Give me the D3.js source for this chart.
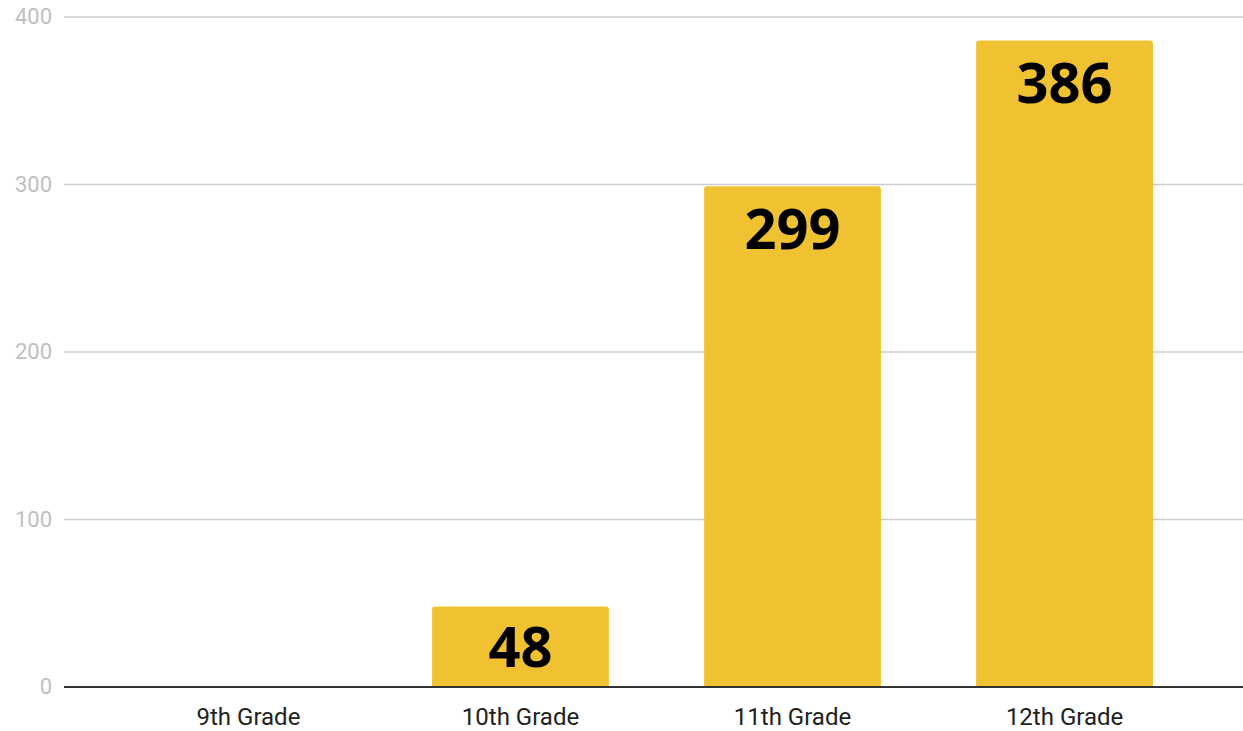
<!DOCTYPE html>
<html>
<head>
<meta charset="utf-8">
<script src="https://cdn.jsdelivr.net/npm/d3@7"></script>
<style>
  body { margin: 0; background: #fff; }
  svg { display: block; }
</style>
</head>
<body>
<svg id="chart" width="1243" height="731"></svg>
<script>
// data
const grades = ["9th Grade", "10th Grade", "11th Grade", "12th Grade"];
const counts = [0, 48, 299, 386];
const yTicks = [0, 100, 200, 300, 400];

const svg = d3.select("#chart");
const plotLeft = 64, plotRight = 1243, plotTop = 17, plotBottom = 687;

// band range shifted a touch right so bars land where the original puts them
const x = d3.scaleBand()
  .domain(grades)
  .range([plotLeft + 3, plotRight + 3])
  .paddingInner(0.35)
  .paddingOuter(0.342);
const y = d3.scaleLinear().domain([0, 400]).range([plotBottom, plotTop]);

// gridlines + y labels
const grid = svg.append("g");
grid.selectAll("line")
  .data(yTicks.filter((d) => d > 0))
  .join("line")
  .attr("x1", plotLeft)
  .attr("x2", plotRight)
  .attr("y1", (d) => y(d))
  .attr("y2", (d) => y(d))
  .attr("stroke", "#cccccc")
  .attr("stroke-width", 1.5);
grid.selectAll("text")
  .data(yTicks)
  .join("text")
  .text((d) => d)
  .attr("x", 52)
  .attr("y", (d) => y(d) + 7)
  .attr("text-anchor", "end")
  .style("font-family", "Roboto")
  .style("font-size", "22px")
  .attr("fill", "#c0c0c0");

// bars, tops slightly rounded
svg.append("g")
  .selectAll("path")
  .data(counts)
  .join("path")
  .attr("d", (d, i) => {
    const x0 = x(grades[i]), w = x.bandwidth(), y0 = y(d), r = d > 0 ? 3 : 0;
    return `M${x0},${plotBottom}V${y0 + r}Q${x0},${y0} ${x0 + r},${y0}H${x0 + w - r}Q${x0 + w},${y0} ${x0 + w},${y0 + r}V${plotBottom}Z`;
  })
  .attr("fill", "#f0c232");

// value labels inside the bars
svg.append("g")
  .selectAll("text")
  .data(counts)
  .join("text")
  .text((d) => (d > 0 ? d : ""))
  .attr("x", (d, i) => x(grades[i]) + x.bandwidth() / 2)
  .attr("y", (d) => Math.min(y(d) + 63, plotBottom - 20))
  .attr("text-anchor", "middle")
  .style("font-family", "'Open Sans'")
  .style("font-weight", "bold")
  .style("font-size", "56px")
  .attr("fill", "#000");

// baseline
svg.append("line")
  .attr("x1", plotLeft)
  .attr("x2", plotRight)
  .attr("y1", y(0))
  .attr("y2", y(0))
  .attr("stroke", "#333")
  .attr("stroke-width", 2);

// x labels
svg.append("g")
  .selectAll("text")
  .data(grades)
  .join("text")
  .text((d) => d)
  .attr("x", (d) => x(d) + x.bandwidth() / 2)
  .attr("y", 725)
  .attr("text-anchor", "middle")
  .style("font-family", "Roboto")
  .style("font-size", "24px")
  .attr("fill", "#222");
</script>
</body>
</html>
